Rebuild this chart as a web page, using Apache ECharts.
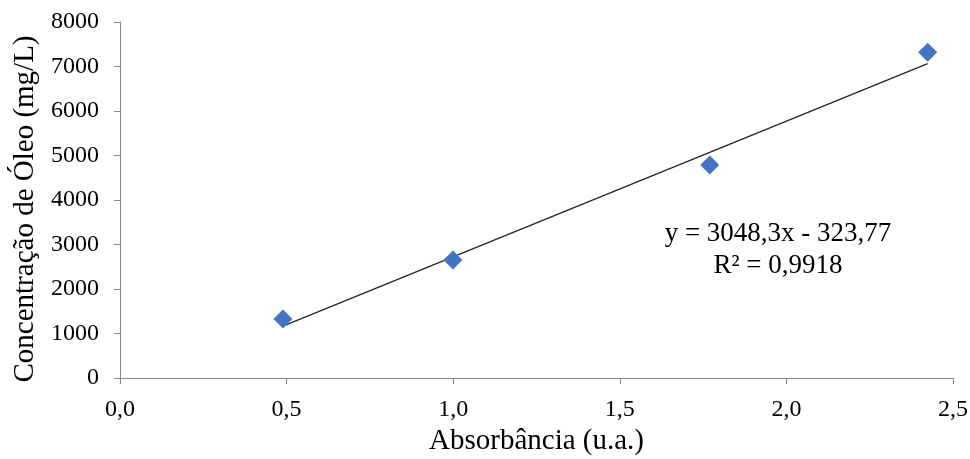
<!DOCTYPE html>
<html>
<head>
<meta charset="utf-8">
<script src="https://cdn.jsdelivr.net/npm/echarts@6/dist/echarts.min.js"></script>
<style>html,body{margin:0;padding:0;background:#fff}#c{width:970px;height:459px}</style>
</head>
<body>
<div id="c"></div>
<script>
const absorbancia = [0.489, 0.999, 1.770, 2.424];
const concentracao = [1326, 2652, 4787, 7319];
const slope = 3048.3;
const intercept = -323.77;
const r2Label = 'R² = 0,9918';
const eqLabel = 'y = 3048,3x - 323,77';
const xTitle = 'Absorbância (u.a.)';
const yTitle = 'Concentração de Óleo (mg/L)';

const font = 'Liberation Serif';
const xMin = Math.min(...absorbancia), xMax = Math.max(...absorbancia);
const trend = [[xMin, slope * xMin + intercept], [xMax, slope * xMax + intercept]];

const chart = echarts.init(document.getElementById('c'));
chart.setOption({
  animation: false,
  grid: {left: 120, right: 17, top: 22, bottom: 81, outerBoundsMode: 'none', containLabel: false},
  xAxis: {
    type: 'value', min: 0, max: 2.5, interval: 0.5,
    name: xTitle, nameLocation: 'middle', nameGap: 45,
    nameTextStyle: {fontFamily: font, fontSize: 29, color: '#000'},
    axisLine: {show: true, lineStyle: {color: '#868686', width: 1}},
    axisTick: {show: true, length: 6, lineStyle: {color: '#868686'}},
    axisLabel: {fontFamily: font, fontSize: 24, color: '#000', margin: 20,
      formatter: v => v.toFixed(1).replace('.', ',')},
    splitLine: {show: false}
  },
  yAxis: {
    type: 'value', min: 0, max: 8000, interval: 1000,
    name: yTitle, nameLocation: 'middle', nameGap: 77, nameRotate: 90,
    nameTextStyle: {fontFamily: font, fontSize: 29, color: '#000', padding: [0, 18, 0, 0]},
    axisLine: {show: true, lineStyle: {color: '#868686', width: 1}},
    axisTick: {show: true, length: 6, lineStyle: {color: '#868686'}},
    axisLabel: {fontFamily: font, fontSize: 24, color: '#000', margin: 21,
      formatter: v => String(v)},
    splitLine: {show: false}
  },
  series: [
    {
      type: 'line', data: trend, symbol: 'none', silent: true,
      lineStyle: {color: '#222', width: 1.2}, z: 1
    },
    {
      type: 'scatter', data: absorbancia.map((x, i) => [x, concentracao[i]]),
      symbol: 'diamond', symbolSize: [19, 19],
      itemStyle: {color: '#4472C4', opacity: 1}, z: 2
    }
  ],
  graphic: [
    {type: 'text', x: 778, y: 234, style: {text: eqLabel, font: '27px "Liberation Serif"', fill: '#000', textAlign: 'center', textVerticalAlign: 'middle'}},
    {type: 'text', x: 778, y: 266, style: {text: r2Label, font: '27px "Liberation Serif"', fill: '#000', textAlign: 'center', textVerticalAlign: 'middle'}}
  ]
});
</script>
</body>
</html>
